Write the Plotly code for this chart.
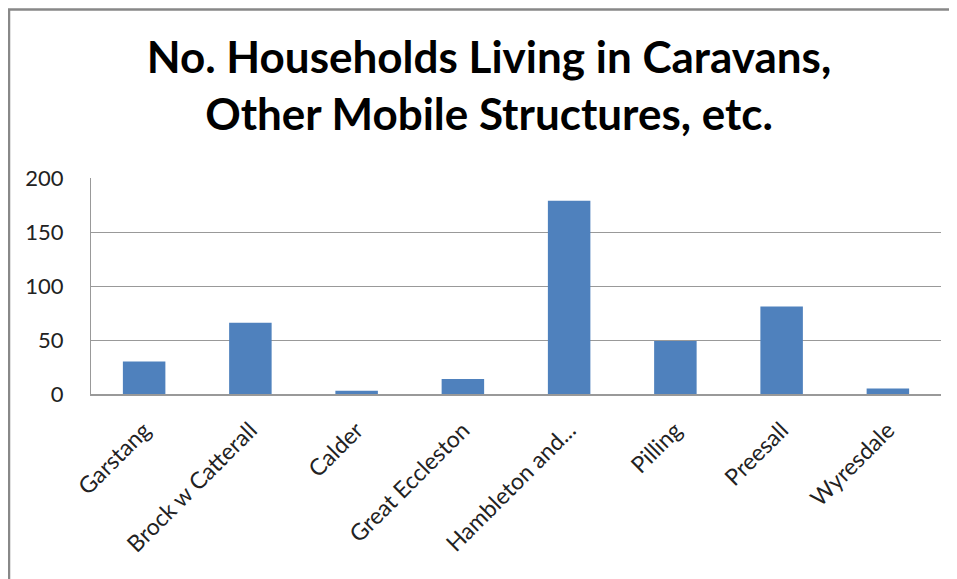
import plotly.graph_objects as go

categories = ["Garstang", "Brock w Catterall", "Calder", "Great Eccleston",
              "Hambleton and...", "Pilling", "Preesall", "Wyresdale"]
values = [30, 66, 3, 14, 179, 49, 81, 5]
y_ticks = [0, 50, 100, 150, 200]

OFF = 8  # page body margin
W, H = 957 - OFF, 579 - OFF
L, T = 91 - OFF, 178 - OFF
R = 957 - 941
B = 579 - 394.5
pw, ph = W - L - R, H - T - B

fig = go.Figure(go.Bar(x=categories, y=values, marker=dict(color="#4f81bd", line=dict(width=0))))

def px_x(p):
    return (p - OFF - L) / pw

def px_y(p):
    return (H - B - (p - OFF)) / ph

fig.update_layout(
    width=W, height=H,
    margin=dict(l=L, r=R, t=T, b=B),
    paper_bgcolor="white", plot_bgcolor="white",
    bargap=0.6,
    showlegend=False,
    font=dict(family="Lato, Open Sans, sans-serif", color="#222"),
    title=dict(text="<b>No. Households Living in Caravans,<br>Other Mobile Structures, etc.</b>",
               x=(489 - OFF) / W, xref="container", xanchor="center",
               y=1 - (73 - OFF) / H, yref="container", yanchor="middle",
               font=dict(size=44, color="black", family="Lato, Open Sans, sans-serif")),
    xaxis=dict(tickangle=-45, tickfont=dict(size=23, color="#222"), showline=True,
               linecolor="#999", linewidth=1.5, ticks="outside", ticklen=12, tickcolor="rgba(0,0,0,0)",
               showgrid=False),
    yaxis=dict(range=[0, 200], tickvals=y_ticks, tickfont=dict(size=22, color="#222"),
               showgrid=True, gridcolor="#999", gridwidth=1, showline=True, linecolor="#999",
               linewidth=1, ticks="outside", ticklen=22, tickcolor="rgba(0,0,0,0)", zeroline=False),
    shapes=[dict(type="rect", xref="paper", yref="paper",
                 x0=px_x(9), x1=px_x(990), y0=px_y(620), y1=px_y(9),
                 line=dict(color="#888", width=2.5), fillcolor="rgba(0,0,0,0)", layer="below")],
)

fig.write_html("out.html")
